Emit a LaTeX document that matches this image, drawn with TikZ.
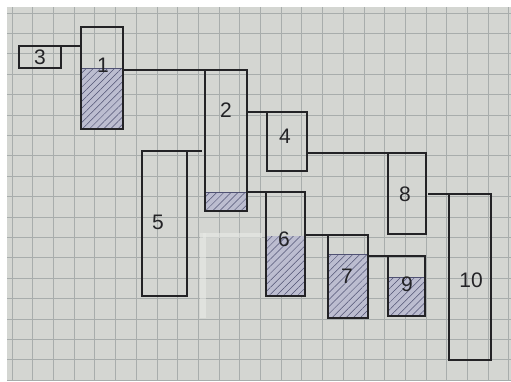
\documentclass[tikz,border=0pt]{standalone}
\usepackage{fontspec}
\setmainfont{Liberation Sans}
\usetikzlibrary{patterns.meta}
\definecolor{paper}{RGB}{212,214,210}
\definecolor{gridc}{RGB}{168,173,172}
\definecolor{ink}{RGB}{35,35,38}
\definecolor{hatchbg}{RGB}{188,189,208}
\definecolor{hatchln}{RGB}{80,82,115}
\definecolor{fluid}{RGB}{232,234,230}
\tikzset{
  box/.style={draw=ink, line width=1.2pt, inner sep=0pt, outer sep=0pt, anchor=north west},
  conn/.style={draw=ink, line width=1.2pt},
  hatched/.style={fill=hatchbg, postaction={pattern={Lines[angle=45,distance=5pt,line width=0.5pt]}, pattern color=hatchln}},
  hatchtop/.style={draw=hatchln, line width=0.6pt},
  lbl/.style={font=\fontsize{21}{21}\selectfont, text=ink, inner sep=0pt}
}
\begin{document}
\begin{tikzpicture}[x=1pt,y=-1pt]
\useasboundingbox (0,0) rectangle (511,381);
\fill[white] (0,0) rectangle (511,381);
\fill[paper] (7,7) rectangle (511,381);
% grid paper
\begin{scope}
\clip (7,7) rectangle (511,381);
\foreach \k in {0,...,24} \draw[gridc, line width=0.8pt] ({12+20.7*\k},7) -- ({12+20.7*\k},381);
\foreach \k in {0,...,18} \draw[gridc, line width=0.8pt] (7,{13+20.4*\k}) -- (511,{13+20.4*\k});
\end{scope}
% correction fluid marks
\draw[fluid, line width=6pt, opacity=0.6] (203,233) -- (203,318);
\draw[fluid, line width=5pt, opacity=0.6] (203,235) -- (262,235);
% hatched parts
\fill[hatched] (81,68) rectangle (123,129);
\fill[hatched] (205,192) rectangle (247,211);
\fill[hatched] (266,236) rectangle (305,296);
\fill[hatched] (328,254) rectangle (368,318);
\fill[hatched] (388,277) rectangle (425,316);
\draw[hatchtop] (81,68) -- (123,68);
\draw[hatchtop] (205,192) -- (247,192);
\draw[hatchtop] (328,254) -- (368,254);
\draw[hatchtop] (388,277) -- (425,277);
% boxes
\node[box, minimum width=42pt, minimum height=102pt] (n1) at (81,27) {};
\node[box, minimum width=42pt, minimum height=141pt] (n2) at (205,70) {};
\node[box, minimum width=42pt, minimum height=22pt] (n3) at (19,46) {};
\node[box, minimum width=40pt, minimum height=59pt] (n4) at (267,112) {};
\node[box, minimum width=45pt, minimum height=145pt] (n5) at (142,151) {};
\node[box, minimum width=39pt, minimum height=104pt] (n6) at (266,192) {};
\node[box, minimum width=40pt, minimum height=83pt] (n7) at (328,235) {};
\node[box, minimum width=38pt, minimum height=81pt] (n8) at (388,153) {};
\node[box, minimum width=37pt, minimum height=60pt] (n9) at (388,256) {};
\node[box, minimum width=42pt, minimum height=166pt] (n10) at (449,194) {};
% connectors
\draw[conn] (n3.north east) -- (n3.north east -| n1.west);
\draw[conn] (n1.east |- n2.north) -- (n2.north west);
\draw[conn] (n5.north east) -- ([xshift=-3pt]n5.north east -| n2.west);
\draw[conn] (n2.east |- n4.north) -- (n4.north west);
\draw[conn] (n2.east |- n6.north) -- (n6.north west);
\draw[conn] (n4.east |- n8.north) -- (n8.north west);
\draw[conn] (n6.east |- n7.north) -- (n7.north west);
\draw[conn] (n7.east |- n9.north) -- (n9.north west);
\draw[conn] ([xshift=2pt]n8.east |- n10.north) -- (n10.north west);
% labels
\node[lbl] (l1) at (103,65) {1};
\node[lbl] (l2) at (226,110) {2};
\node[lbl] (l3) at (40,57) {3};
\node[lbl] (l4) at (285,136) {4};
\node[lbl] (l5) at (158,222) {5};
\node[lbl] (l6) at (284,239) {6};
\node[lbl] (l7) at (347,276) {7};
\node[lbl] (l8) at (405,194) {8};
\node[lbl] (l9) at (407,284) {9};
\node[lbl] (l10) at (471,280) {10};
\end{tikzpicture}
\end{document}
